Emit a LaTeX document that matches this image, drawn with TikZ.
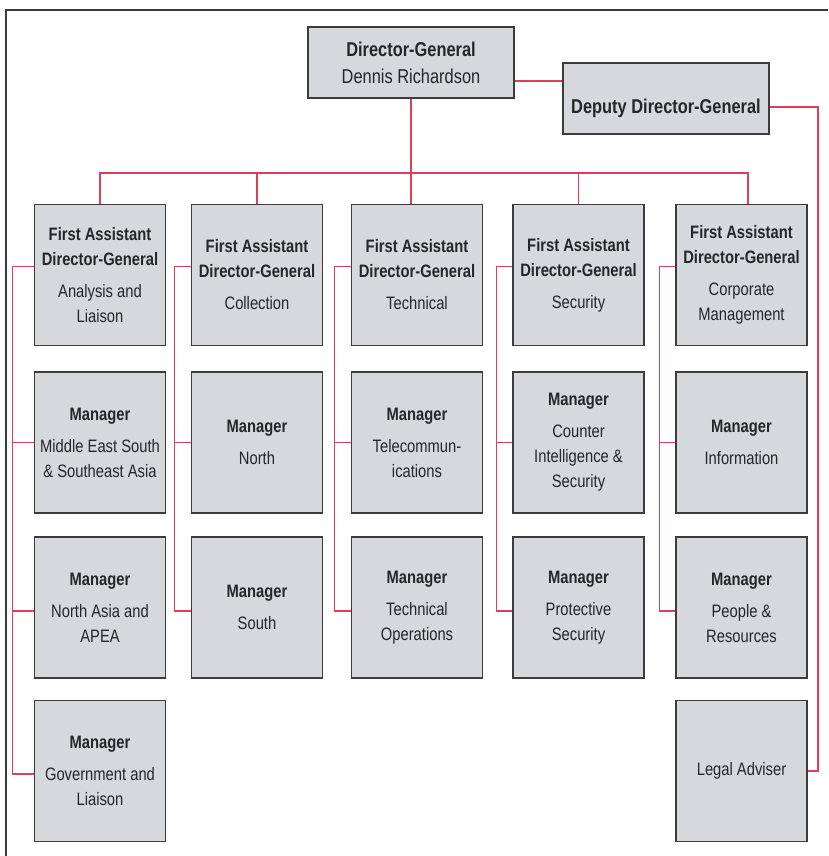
\documentclass[tikz,border=0pt]{standalone}
\usepackage{fontspec}
\setmainfont{Liberation Sans}[FakeStretch=0.82]
\usepackage{tikz}
\usetikzlibrary{calc}
\definecolor{boxfill}{HTML}{D7D8DC}
\definecolor{boxline}{HTML}{3C3C3C}
\definecolor{linkred}{HTML}{D8405C}
\definecolor{ink}{HTML}{262626}

\begin{document}
\begin{tikzpicture}[x=1pt, y=-1pt,
    unit/.style={draw=boxline, line width=1.4pt, fill=boxfill, text=ink, align=center,
        inner sep=0pt, minimum width=131pt, minimum height=141pt,
        font=\fontsize{18}{25}\selectfont},
    head/.style={unit, minimum width=206pt, minimum height=71pt,
        font=\fontsize{20}{27}\selectfont},
    link/.style={draw=linkred, line width=1.2pt}]
    \useasboundingbox (0,0) rectangle (828,856);

    % Frame
    \draw[boxline, line width=1.5pt] (6,856) -- (6,10) -- (828,10);

    % Top
    \node[head] (dg) at (411,62.5) {\textbf{Director-General}\\Dennis Richardson};
    \node[head] (ddg) at (666,98.5) {\raisebox{-15.5pt}[0pt][0pt]{\textbf{Deputy Director-General}}};

    % First Assistants
    \node[unit] (fa1) at (100,275) {\textbf{First Assistant}\\\textbf{Director-General}\\[7pt]Analysis and\\Liaison};
    \node[unit] (fa2) at (257,275) {\textbf{First Assistant}\\\textbf{Director-General}\\[7pt]Collection};
    \node[unit] (fa3) at (417,275) {\textbf{First Assistant}\\\textbf{Director-General}\\[7pt]Technical};
    \node[unit] (fa4) at (578.5,275) {\textbf{First Assistant}\\\textbf{Director-General}\\[7pt]Security};
    \node[unit] (fa5) at (741.5,275) {\textbf{First Assistant}\\\textbf{Director-General}\\[7pt]Corporate\\Management};

    % Managers
    \node[unit] (m12) at (100,442.5) {\textbf{Manager}\\[7pt]Middle East South\\\& Southeast Asia};
    \node[unit] (m13) at (100,607.5) {\textbf{Manager}\\[7pt]North Asia and\\APEA};
    \node[unit] (m14) at (100,771) {\textbf{Manager}\\[7pt]Government and\\Liaison};
    \node[unit] (m22) at (257,442.5) {\textbf{Manager}\\[7pt]North};
    \node[unit] (m23) at (257,607.5) {\textbf{Manager}\\[7pt]South};
    \node[unit] (m32) at (417,442.5) {\textbf{Manager}\\[7pt]Telecommun-\\ications};
    \node[unit] (m33) at (417,607.5) {\textbf{Manager}\\[7pt]Technical\\Operations};
    \node[unit] (m42) at (578.5,442.5) {\textbf{Manager}\\[7pt]Counter\\Intelligence \&\\Security};
    \node[unit] (m43) at (578.5,607.5) {\textbf{Manager}\\[7pt]Protective\\Security};
    \node[unit] (m52) at (741.5,442.5) {\textbf{Manager}\\[7pt]Information};
    \node[unit] (m53) at (741.5,607.5) {\textbf{Manager}\\[7pt]People \&\\Resources};
    \node[unit] (legal) at (741.5,771) {Legal Adviser};

    % Spine to first assistants
    \coordinate (bus) at (0,173);
    \draw[link] (dg.south) -- (dg.south |- fa3.north);
    \draw[link] (fa1.north) |- ([xshift=6.5pt]fa5.north |- bus) -- ([xshift=6.5pt]fa5.north);
    \draw[link] (fa2.north) -- (fa2.north |- bus);
    \draw[link] (fa4.north) -- (fa4.north |- bus);

    % Deputy and legal
    \coordinate (tie) at (0,81);
    \coordinate (rail) at (818,0);
    \draw[link] (dg.east |- tie) -- (ddg.west |- tie);
    \draw[link] ([yshift=-8.5pt]ddg.east) -| (rail |- legal.east) -- (legal.east);

    % Column brackets
    \draw[link] ([yshift=8.5pt]fa1.west) -- ++(-21,0) |- ([yshift=-3pt]m14.west);
    \draw[link] (m12.west) -- ++(-21,0);
    \draw[link] ([yshift=-3.5pt]m13.west) -- ++(-21,0);
    \draw[link] ([yshift=8.5pt]fa2.west) -- ++(-16,0) |- ([yshift=-3.5pt]m23.west);
    \draw[link] (m22.west) -- ++(-16,0);
    \draw[link] ([yshift=8.5pt]fa3.west) -- ++(-16,0) |- ([yshift=-3.5pt]m33.west);
    \draw[link] (m32.west) -- ++(-16,0);
    \draw[link] ([yshift=8.5pt]fa4.west) -- ++(-16,0) |- ([yshift=-3.5pt]m43.west);
    \draw[link] (m42.west) -- ++(-16,0);
    \draw[link] ([yshift=8.5pt]fa5.west) -- ++(-16,0) |- ([yshift=-3.5pt]m53.west);
    \draw[link] (m52.west) -- ++(-16,0);
\end{tikzpicture}
\end{document}
